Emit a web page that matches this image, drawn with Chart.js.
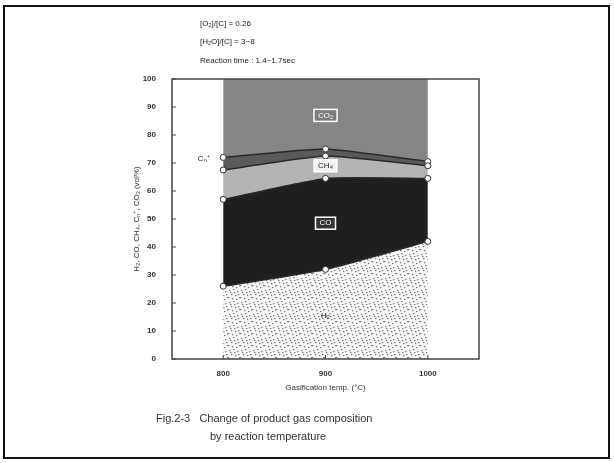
<!DOCTYPE html>
<html>
<head>
<meta charset="utf-8">
<script src="https://cdn.jsdelivr.net/npm/chart.js@4"></script>
<style>
  body { margin: 0; background: #fff; }
  #wrap { position: relative; width: 614px; height: 463px; }
  #frame { position: absolute; left: 3px; top: 5px; width: 603px; height: 450px; border: 2px solid #111; }
  canvas { position: absolute; left: 0; top: 0; }
  .note { position: absolute; left: 200px; font: 8px "Liberation Sans", Arial, sans-serif; color: #222; }
  .cap { position: absolute; font: 11px "Liberation Sans", Arial, sans-serif; color: #333; }
</style>
</head>
<body>
<div id="wrap">
  <canvas id="c" width="614" height="463"></canvas>
  <div id="frame"></div>
  <div class="note" style="top:19px">[O₂]/[C] = 0.26</div>
  <div class="note" style="top:37px">[H₂O]/[C] = 3~8</div>
  <div class="note" style="top:56px">Reaction time : 1.4~1.7sec</div>
  <div class="cap" style="left:156px;top:412px">Fig.2-3&nbsp;&nbsp;&nbsp;Change of product gas composition</div>
  <div class="cap" style="left:210px;top:430px">by reaction temperature</div>
</div>
<script>
// gasification temperatures (°C)
const temps = [800, 900, 1000];
// component shares (vol%), stacked bottom to top
const h2  = [26, 32, 42];
const co  = [31, 32.5, 22.5];
const ch4 = [10.5, 8, 4.5];
const cn  = [4.5, 2.5, 1.5];
const co2 = [28, 25, 29.5];

const yTicks = [0, 10, 20, 30, 40, 50, 60, 70, 80, 90, 100];
const xTicks = [800, 900, 1000];

// speckled fill for the H2 area
function speckle() {
  const p = document.createElement('canvas');
  p.width = 12; p.height = 12;
  const g = p.getContext('2d');
  g.fillStyle = '#f7f7f7';
  g.fillRect(0, 0, 12, 12);
  g.fillStyle = '#7a7a7a';
  [[1,2],[5,1],[9,3],[3,6],[7,7],[11,9],[4,10],[8,11],[0,9],[6,4],[10,6],[2,4]].forEach(d => g.fillRect(d[0], d[1], 1.4, 1.2));
  return g.createPattern(p, 'repeat');
}

const pts = arr => temps.map((t, i) => ({ x: t, y: arr[i] }));

const labelPlugin = {
  id: 'labels',
  afterDatasetsDraw(chart) {
    const ctx = chart.ctx, xs = chart.scales.x, ys = chart.scales.y, a = chart.chartArea;
    ctx.save();
    // box round the plot
    ctx.strokeStyle = '#444';
    ctx.lineWidth = 1.5;
    ctx.strokeRect(a.left, a.top, a.right - a.left, a.bottom - a.top);
    // inward ticks
    ctx.lineWidth = 1;
    yTicks.forEach(v => {
      const y = ys.getPixelForValue(v);
      ctx.beginPath(); ctx.moveTo(a.left, y); ctx.lineTo(a.left + 4, y); ctx.stroke();
    });
    xTicks.forEach(v => {
      const x = xs.getPixelForValue(v);
      ctx.beginPath(); ctx.moveTo(x, a.bottom); ctx.lineTo(x, a.bottom - 4); ctx.stroke();
    });
    // area labels
    const tags = [
      { t: 'CO₂', x: 900, y: 87, bg: '#7c7c7c', fg: '#fff' },
      { t: 'CH₄', x: 900, y: 69, bg: '#f2f2f2', fg: '#222' },
      { t: 'CO',  x: 900, y: 48.5, bg: '#333', fg: '#fff' },
    ];
    ctx.font = '8px "Liberation Sans", Arial, sans-serif';
    ctx.textAlign = 'center';
    ctx.textBaseline = 'middle';
    tags.forEach(g => {
      const x = xs.getPixelForValue(g.x), y = ys.getPixelForValue(g.y);
      const w = ctx.measureText(g.t).width + 8;
      ctx.fillStyle = g.bg;
      ctx.fillRect(x - w / 2, y - 6, w, 12);
      ctx.strokeStyle = '#fff';
      ctx.lineWidth = 1.5;
      ctx.strokeRect(x - w / 2, y - 6, w, 12);
      ctx.fillStyle = g.fg;
      ctx.fillText(g.t, x, y);
    });
    ctx.fillStyle = '#222';
    ctx.fillText('H₂', xs.getPixelForValue(900), ys.getPixelForValue(15.5));
    ctx.fillText('Cₙ⁺', xs.getPixelForValue(781), ys.getPixelForValue(71.5));
    ctx.restore();
  }
};

const line = { borderColor: '#2a2a2a', borderWidth: 1.5, pointRadius: 3, pointBackgroundColor: '#fff', pointBorderColor: '#333', pointBorderWidth: 1, tension: 0.15 };
const tickFont = { size: 8, family: 'Liberation Sans', weight: 'bold' };

new Chart(document.getElementById('c'), {
  type: 'line',
  data: {
    datasets: [
      Object.assign({}, line, { label: 'H2', data: pts(h2), fill: 'origin', backgroundColor: speckle() }),
      Object.assign({}, line, { label: 'CO', data: pts(co), fill: '-1', backgroundColor: '#1f1f1f' }),
      Object.assign({}, line, { label: 'CH4', data: pts(ch4), fill: '-1', backgroundColor: '#b4b4b4' }),
      Object.assign({}, line, { label: 'Cn+', data: pts(cn), fill: '-1', backgroundColor: '#5a5a5a' }),
      Object.assign({}, line, { label: 'CO2', data: pts(co2), fill: '-1', backgroundColor: '#858585', borderWidth: 0, pointRadius: 0 }),
    ]
  },
  options: {
    responsive: false,
    animation: false,
    layout: { padding: { left: 132, right: 135, top: 79, bottom: 66 } },
    plugins: { legend: { display: false }, tooltip: { enabled: false } },
    scales: {
      x: {
        type: 'linear', min: 750, max: 1050,
        afterBuildTicks: s => { s.ticks = xTicks.map(v => ({ value: v })); },
        afterFit: s => { s.height = 38; },
        grid: { display: false },
        border: { display: false },
        ticks: { color: '#333', font: tickFont, padding: 2, callback: v => String(v) },
        title: { display: true, text: 'Gasification temp. (°C)', color: '#333', font: { size: 8, family: 'Liberation Sans' }, padding: { top: 6 } }
      },
      y: {
        stacked: true, min: 0, max: 100,
        afterBuildTicks: s => { s.ticks = yTicks.map(v => ({ value: v })); },
        afterFit: s => { s.width = 40; },
        grid: { display: false },
        border: { display: false },
        ticks: { color: '#333', font: tickFont, padding: 8 },
        title: { display: true, text: 'H₂, CO, CH₄, Cₙ⁺, CO₂ (vol%)', color: '#333', font: { size: 8, family: 'Liberation Sans' }, padding: 0 }
      }
    }
  },
  plugins: [labelPlugin]
});
</script>
</body>
</html>
